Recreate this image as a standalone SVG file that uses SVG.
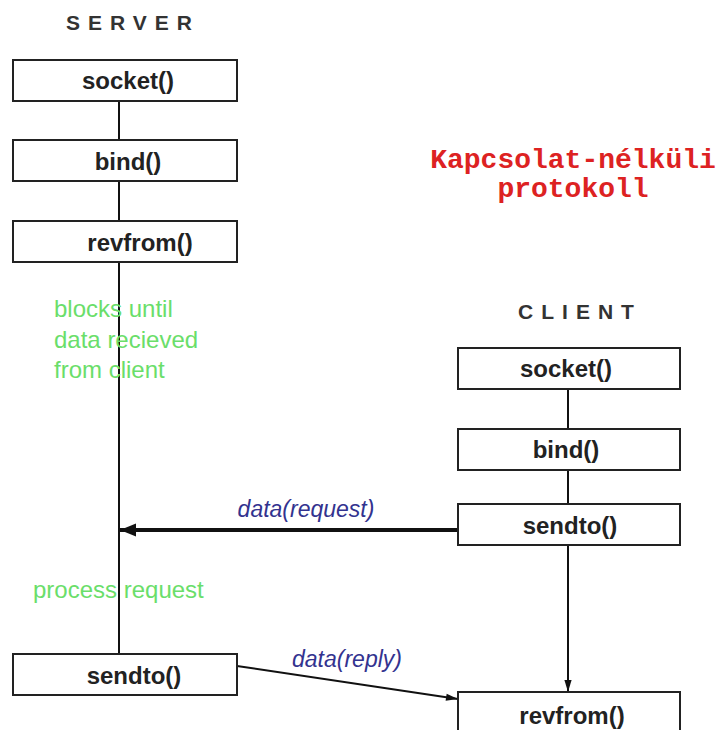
<svg xmlns="http://www.w3.org/2000/svg" width="720" height="730" viewBox="0 0 720 730">
<defs>
<style>
.box{fill:#fff;stroke:#222;stroke-width:2}
.lbl{font-family:"Liberation Sans",Arial,sans-serif;font-weight:bold;font-size:24px;fill:#222;text-anchor:middle}
.hdr{font-family:"Liberation Sans",Arial,sans-serif;font-weight:bold;font-size:21px;fill:#333;letter-spacing:8px;text-anchor:middle}
.note{font-family:"Liberation Sans",Arial,sans-serif;font-size:24px;fill:#6ade6a}
.msg{font-family:"Liberation Sans",Arial,sans-serif;font-style:italic;font-size:23px;fill:#33338f;text-anchor:middle}
.ttl{font-family:"Liberation Mono","Courier New",monospace;font-weight:bold;font-size:28px;fill:#dd2222;text-anchor:middle}
.ln{stroke:#111;stroke-width:2;fill:none}
</style>
<marker id="ah" viewBox="0 0 10 10" refX="10" refY="5" markerWidth="8" markerHeight="6" markerUnits="strokeWidth" orient="auto">
<path d="M0,2 L10,5 L0,8 z" fill="#111"/>
</marker>
<marker id="ah2" viewBox="0 0 10 10" refX="10" refY="5" markerWidth="12" markerHeight="4" markerUnits="strokeWidth" orient="auto">
<path d="M0,1 L10,5 L0,9 z" fill="#111"/>
</marker>
</defs>
<rect width="720" height="730" fill="#fff"/>
<text class="hdr" x="133" y="30">SERVER</text>
<text class="hdr" x="580" y="319">CLIENT</text>
<text class="ttl" x="573" y="168">Kapcsolat-nélküli</text>
<text class="ttl" x="573" y="197">protokoll</text>
<g id="connectors">
<line class="ln" x1="119" y1="100" x2="119" y2="140"/>
<line class="ln" x1="119" y1="181" x2="119" y2="221"/>
<line class="ln" x1="119" y1="262" x2="119" y2="654"/>
<line class="ln" x1="568" y1="389" x2="568" y2="429"/>
<line class="ln" x1="568" y1="470" x2="568" y2="504"/>
<line class="ln" x1="568" y1="545" x2="568" y2="692" marker-end="url(#ah)"/>
<line x1="458" y1="530" x2="120" y2="530" stroke="#111" stroke-width="4" marker-end="url(#ah2)"/>
<line class="ln" x1="237" y1="666" x2="458" y2="699" marker-end="url(#ah)"/>
<text class="msg" x="306" y="517">data(request)</text>
<text class="msg" x="347" y="667">data(reply)</text>
</g>
<g id="notes">
<text class="note" x="54" y="317">blocks until</text>
<text class="note" x="54" y="348">data recieved</text>
<text class="note" x="54" y="378">from client</text>
<text class="note" x="33" y="598">process request</text>
</g>
<g id="s_socket"><rect class="box" x="13" y="60" width="224" height="41"/><text class="lbl" x="128" y="89">socket()</text></g>
<g id="s_bind"><rect class="box" x="13" y="140" width="224" height="41"/><text class="lbl" x="128" y="170">bind()</text></g>
<g id="s_revfrom"><rect class="box" x="13" y="221" width="224" height="41"/><text class="lbl" x="140" y="251">revfrom()</text></g>
<g id="s_sendto"><rect class="box" x="13" y="654" width="224" height="41"/><text class="lbl" x="134" y="684">sendto()</text></g>
<g id="c_socket"><rect class="box" x="458" y="348" width="222" height="41"/><text class="lbl" x="566" y="377">socket()</text></g>
<g id="c_bind"><rect class="box" x="458" y="429" width="222" height="41"/><text class="lbl" x="566" y="458">bind()</text></g>
<g id="c_sendto"><rect class="box" x="458" y="504" width="222" height="41"/><text class="lbl" x="570" y="534">sendto()</text></g>
<g id="c_revfrom"><rect class="box" x="458" y="692" width="222" height="41"/><text class="lbl" x="572" y="724">revfrom()</text></g>
</svg>
